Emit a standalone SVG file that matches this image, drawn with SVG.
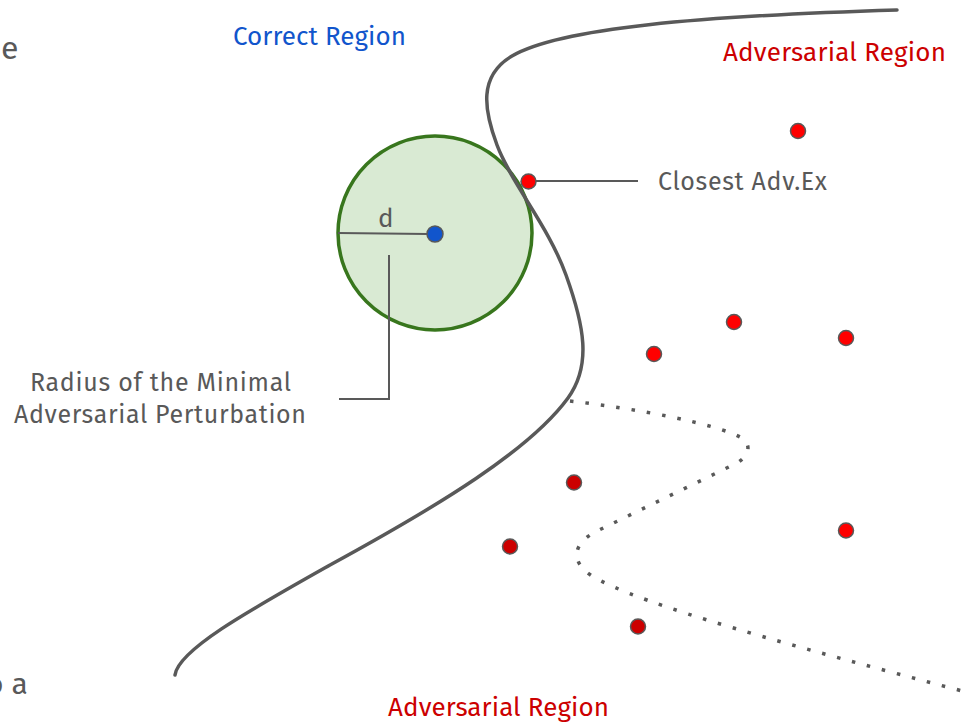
<svg xmlns="http://www.w3.org/2000/svg" width="977" height="722" viewBox="0 0 977 722">
<style>
.t{font-family:"Fira Sans","Open Sans","Noto Sans",sans-serif;}
.g{fill:#595959;}
.blue{fill:#1155cc;}
.red{fill:#cc0000;}
.ln{fill:none;stroke:#595959;stroke-width:2;}
.bd{fill:none;stroke:#595959;stroke-width:3.5;stroke-linecap:round;}
.dt{fill:none;stroke:#595959;stroke-width:3.5;stroke-dasharray:3.5 12;}
.pr{fill:#ff0000;stroke:#595959;stroke-width:1.5;}
.pd{fill:#cc0000;stroke:#595959;stroke-width:1.5;}
</style>
<rect width="977" height="722" fill="#ffffff"/>
<g id="bg-text">
<text class="t g" x="1" y="59" font-size="32">e</text>
<text class="t g" x="-14" y="694" font-size="30">o a</text>
</g>
<g id="ball">
<circle cx="435" cy="233" r="97" fill="#d9ead3" stroke="#38761d" stroke-width="3.5"/>
</g>
<g id="connectors">
<path id="boundary" class="bd" d="M897,10 C700,16 560,28 512,56 C478,76 484,110 497,145 C512,185 548,225 566,275 C584,325 592,365 568,398 C530,450 440,505 330,565 C250,610 178,650 175,675"/>
<path id="dotted-boundary" class="dt" d="M570,401 C640,409 715,424 740,437 C752,444 750,455 737,463 L595,532 C575,543 568,560 592,576 C640,605 800,648 966,692"/>
<line class="ln" x1="338" y1="233" x2="428" y2="234"/>
<line class="ln" x1="536" y1="181" x2="638" y2="181"/>
<polyline class="ln" points="389,255 389,399 339,399"/>
</g>
<g id="labels">
<text class="t blue" x="233" y="45" font-size="26" textLength="173">Correct Region</text>
<text class="t red" x="723" y="61" font-size="26" textLength="223">Adversarial Region</text>
<text class="t red" x="388" y="716" font-size="26" textLength="221">Adversarial Region</text>
<text class="t g" x="658" y="190" font-size="25" textLength="169">Closest Adv.Ex</text>
<text class="t g" x="378" y="227" font-size="26">d</text>
<text class="t g" x="30" y="391" font-size="25" textLength="261">Radius of the Minimal</text>
<text class="t g" x="14" y="423" font-size="25" textLength="292">Adversarial Perturbation</text>
</g>
<g id="points">
<circle id="x0" cx="435" cy="234" r="8" fill="#1155cc" stroke="#595959" stroke-width="1.5"/>
<circle id="closest" class="pr" cx="528.5" cy="181.5" r="7.5"/>
<circle class="pr" cx="798" cy="131" r="7.5"/>
<circle class="pr" cx="734" cy="322" r="7.5"/>
<circle class="pr" cx="846" cy="338" r="7.5"/>
<circle class="pr" cx="654" cy="354" r="7.5"/>
<circle class="pd" cx="574" cy="482.5" r="7.5"/>
<circle class="pd" cx="510" cy="546.5" r="7.5"/>
<circle class="pr" cx="846" cy="530.5" r="7.5"/>
<circle class="pd" cx="638" cy="626.5" r="7.5"/>
</g>
</svg>
